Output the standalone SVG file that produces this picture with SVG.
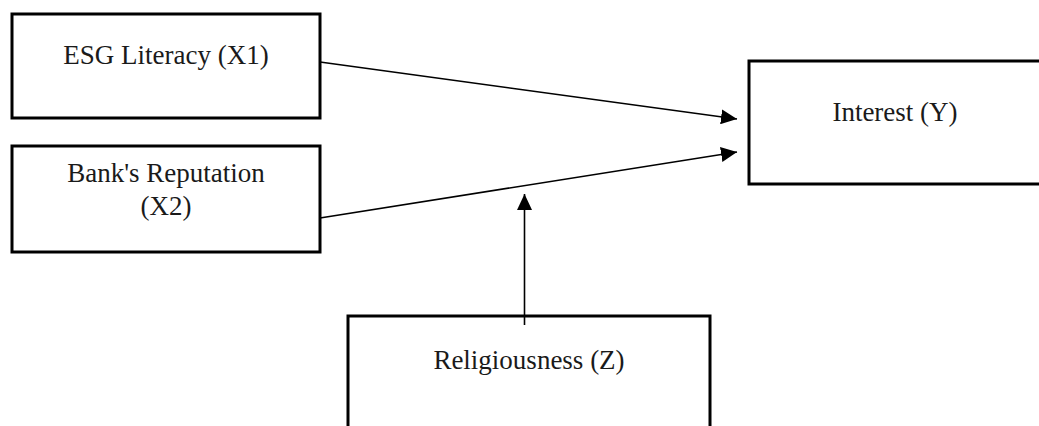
<svg xmlns="http://www.w3.org/2000/svg" width="1039" height="426" viewBox="0 0 1039 426">
<style>
.box{fill:#fff;stroke:#000;stroke-width:3}
.lbl{font-family:"Liberation Serif","Times New Roman",serif;font-size:27px;fill:#1a1a1a;text-anchor:middle}
.edge{stroke:#000;stroke-width:1.6;fill:none;marker-end:url(#ah)}
</style>
<defs>
<marker id="ah" markerUnits="userSpaceOnUse" markerWidth="17" markerHeight="15" refX="16" refY="7.5" orient="auto">
<path d="M0,0 L16,7.5 L0,15 Z" fill="#000"/>
</marker>
</defs>
<rect width="1039" height="426" fill="#fff"/>
<g id="node-x1">
<rect class="box" x="12" y="14" width="308" height="104"/>
<text class="lbl" x="166" y="64">ESG Literacy (X1)</text>
</g>
<g id="node-x2">
<rect class="box" x="12" y="146" width="308" height="106"/>
<text class="lbl" x="166" y="182">Bank's Reputation</text>
<text class="lbl" x="166" y="215">(X2)</text>
</g>
<g id="node-y">
<rect class="box" x="749" y="61" width="300" height="123"/>
<text class="lbl" x="895" y="121">Interest (Y)</text>
</g>
<g id="node-z">
<rect class="box" x="348" y="316" width="362" height="130"/>
<text class="lbl" x="529" y="369">Religiousness (Z)</text>
</g>
<g id="connectors">
<line class="edge" x1="320" y1="62" x2="737" y2="119"/>
<line class="edge" x1="320" y1="218" x2="737" y2="152"/>
<line class="edge" x1="524.5" y1="325" x2="524.5" y2="194"/>
</g>
</svg>
